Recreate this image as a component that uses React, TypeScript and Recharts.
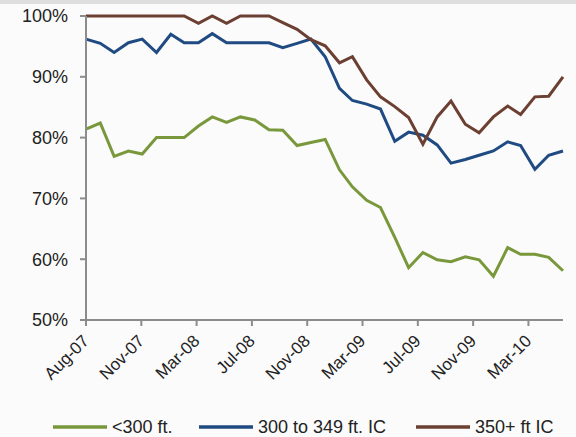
import React from "react";
import { Legend, Line, LineChart, XAxis, YAxis } from "recharts";

const months = [
  "2007-08", "2007-09", "2007-10", "2007-11", "2007-12",
  "2008-01", "2008-02", "2008-03", "2008-04", "2008-05", "2008-06",
  "2008-07", "2008-08", "2008-09", "2008-10", "2008-11", "2008-12",
  "2009-01", "2009-02", "2009-03", "2009-04", "2009-05", "2009-06",
  "2009-07", "2009-08", "2009-09", "2009-10", "2009-11", "2009-12",
  "2010-01", "2010-02", "2010-03", "2010-04", "2010-05", "2010-06",
];

const under300 = [
  81.4, 82.4, 76.9, 77.8, 77.3, 80.0, 80.0, 80.0, 81.9, 83.4, 82.5, 83.4,
  82.9, 81.3, 81.2, 78.7, 79.2, 79.7, 74.7, 71.9, 69.7, 68.5, 63.6, 58.6,
  61.1, 59.9, 59.6, 60.4, 59.9, 57.2, 61.9, 60.8, 60.8, 60.3, 58.1,
];

const from300to349 = [
  96.2, 95.5, 94.0, 95.6, 96.2, 94.0, 97.0, 95.6, 95.6, 97.1, 95.6, 95.6,
  95.6, 95.6, 94.8, 95.5, 96.2, 93.3, 88.1, 86.1, 85.5, 84.7, 79.4, 80.9,
  80.4, 78.8, 75.8, 76.4, 77.1, 77.8, 79.3, 78.7, 74.8, 77.1, 77.8,
];

const over350 = [
  100, 100, 100, 100, 100, 100, 100, 100, 98.8, 100, 98.8, 100,
  100, 100, 98.9, 97.8, 96.1, 95.1, 92.3, 93.3, 89.5, 86.7, 85.1, 83.3,
  78.9, 83.4, 86.0, 82.2, 80.8, 83.4, 85.2, 83.8, 86.7, 86.8, 90.0,
];

// Excel date axis: one label every 120 days starting Aug-07
const xTickLabels = [
  "Aug-07", "Nov-07", "Mar-08", "Jul-08", "Nov-08",
  "Mar-09", "Jul-09", "Nov-09", "Mar-10",
];
const tickStepDays = 120;
const yTicks = [50, 60, 70, 80, 90, 100];

const seriesNames = ["<300 ft.", "300 to 349 ft. IC", "350+ ft IC"];
const colors = ["#78983b", "#1f4b82", "#6b3f31"];

const DAY = 24 * 3600 * 1000;
const start = Date.UTC(2007, 7, 1);
const dayOf = (m: string) => {
  const [y, mo] = m.split("-").map(Number);
  return Math.round((Date.UTC(y, mo - 1, 1) - start) / DAY);
};

const data = months.map((m, i) => ({
  t: dayOf(m),
  a: under300[i],
  b: from300to349[i],
  c: over350[i],
}));
const xTicks = xTickLabels.map((_, i) => i * tickStepDays);
const lastDay = data[data.length - 1].t;

const font = "'Liberation Sans', Arial, sans-serif";

const XTick = (props: any) => {
  const { x, y, payload } = props;
  const label = xTickLabels[Math.round(payload.value / tickStepDays)];
  return (
    <text
      x={x + 4}
      y={y + 14}
      transform={`rotate(-45, ${x + 4}, ${y + 14})`}
      textAnchor="end"
      fontSize={17}
      fontFamily={font}
      fill="#222"
    >
      {label}
    </text>
  );
};

const legendX = [53, 199, 416];

const LegendContent = () => (
  <div style={{ position: "relative", width: 576, height: 24 }}>
    {seriesNames.map((name, i) => (
      <div
        key={name}
        style={{
          position: "absolute",
          left: legendX[i],
          top: 0,
          display: "flex",
          alignItems: "center",
          height: 24,
          whiteSpace: "nowrap",
        }}
      >
        <svg width={54} height={6} style={{ marginRight: 5 }}>
          <line x1={0} y1={3} x2={54} y2={3} stroke={colors[i]} strokeWidth={3.5} />
        </svg>
        <span style={{ fontSize: 18, fontFamily: font, color: "#222" }}>{name}</span>
      </div>
    ))}
  </div>
);

export default function App() {
  return (
    <div
      style={{
        position: "absolute",
        left: 0,
        top: 0,
        width: 576,
        height: 437,
        background: "#fbfbfb",
        borderTop: "4px solid #dedede",
        boxSizing: "border-box",
      }}
    >
      <LineChart
        width={576}
        height={433}
        data={data}
        margin={{ top: 12, right: 13, bottom: 37, left: 0 }}
      >
        <XAxis
          dataKey="t"
          type="number"
          domain={[0, lastDay]}
          ticks={xTicks}
          interval={0}
          height={80}
          tick={<XTick />}
          tickSize={6}
          stroke="#8c8c8c"
          strokeWidth={2}
        />
        <YAxis
          domain={[50, 100]}
          ticks={yTicks}
          width={86}
          tickSize={6}
          tickMargin={12}
          tickFormatter={(v: number) => `${v}%`}
          tick={{ fontSize: 18, fontFamily: font, fill: "#222" }}
          stroke="#8c8c8c"
          strokeWidth={2}
        />
        <Legend
          verticalAlign="middle"
          layout="horizontal"
          wrapperStyle={{ top: 411, left: 0, width: 576 }}
          content={<LegendContent />}
        />
        <Line dataKey="a" name={seriesNames[0]} stroke={colors[0]} strokeWidth={3} dot={false} isAnimationActive={false} />
        <Line dataKey="b" name={seriesNames[1]} stroke={colors[1]} strokeWidth={3} dot={false} isAnimationActive={false} />
        <Line dataKey="c" name={seriesNames[2]} stroke={colors[2]} strokeWidth={3} dot={false} isAnimationActive={false} />
      </LineChart>
    </div>
  );
}
